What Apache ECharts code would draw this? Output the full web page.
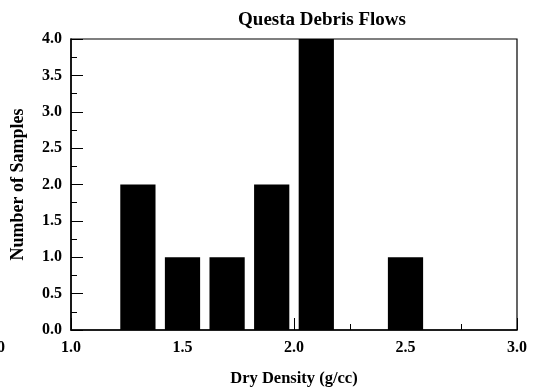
<!DOCTYPE html>
<html>
<head>
<meta charset="utf-8">
<script src="https://cdn.jsdelivr.net/npm/echarts@6/dist/echarts.min.js"></script>
<style>
html,body{margin:0;padding:0;background:#fff;}
#chart{width:534px;height:392px;}
</style>
</head>
<body>
<div id="chart"></div>
<script>
// Data
const binCenters = [1.3, 1.5, 1.7, 1.9, 2.1, 2.5];
const counts = [2, 1, 1, 2, 4, 1];
const xTickLabels = ['1.0', '1.5', '2.0', '2.5', '3.0'];
const yTickLabels = ['0.0', '0.5', '1.0', '1.5', '2.0', '2.5', '3.0', '3.5', '4.0'];
const barWidthUnits = 0.158;

const FONT = '"Liberation Serif", "Times New Roman", serif';
const chart = echarts.init(document.getElementById('chart'), null, {renderer: 'canvas'});

const option = {
  animation: false,
  backgroundColor: '#ffffff',
  grid: {
    left: 71, right: 17, top: 39, bottom: 56,
    show: true, borderColor: '#000', borderWidth: 1.2, backgroundColor: 'transparent'
  },
  xAxis: {
    type: 'value', min: 1, max: 3, interval: 0.5,
    name: 'Dry Density (g/cc)', nameLocation: 'middle', nameGap: 40,
    nameTextStyle: {fontFamily: FONT, fontWeight: 'bold', fontSize: 16.5, color: '#000'},
    axisLine: {show: true, onZero: false, lineStyle: {color: '#000', width: 1.5}},
    axisTick: {show: true, inside: true, length: 12, lineStyle: {color: '#000', width: 1}},
    minorTick: {show: true, splitNumber: 2, length: 6, lineStyle: {color: '#000', width: 1}},
    splitLine: {show: false},
    axisLabel: {
      fontFamily: FONT, fontWeight: 'bold', fontSize: 16, color: '#000', margin: 10,
      formatter: v => xTickLabels[Math.round((v - 1) / 0.5)]
    }
  },
  yAxis: {
    type: 'value', min: 0, max: 4, interval: 0.5,
    name: 'Number of Samples', nameLocation: 'middle', nameGap: 44,
    nameTextStyle: {fontFamily: FONT, fontWeight: 'bold', fontSize: 18, color: '#000'},
    axisLine: {show: true, onZero: false, lineStyle: {color: '#000', width: 1.5}},
    axisTick: {show: true, inside: true, length: 12, lineStyle: {color: '#000', width: 1}},
    minorTick: {show: true, splitNumber: 2, length: 6, lineStyle: {color: '#000', width: 1}},
    splitLine: {show: false},
    axisLabel: {
      fontFamily: FONT, fontWeight: 'bold', fontSize: 16, color: '#000', margin: 9,
      formatter: v => yTickLabels[Math.round(v / 0.5)]
    }
  },
  graphic: [{
    type: 'text', x: 322, y: 20,
    style: {text: 'Questa Debris Flows', font: 'bold 19px ' + FONT, fill: '#000',
            textAlign: 'center', textVerticalAlign: 'middle'}
  }, {
    type: 'text', x: 5, y: 348,
    style: {text: '0', font: 'bold 16px ' + FONT, fill: '#000',
            textAlign: 'right', textVerticalAlign: 'middle'}
  }],
  series: [{
    type: 'custom',
    data: binCenters.map((c, i) => [c, counts[i]]),
    renderItem: function (params, api) {
      const x = api.value(0), y = api.value(1);
      const p0 = api.coord([x - barWidthUnits / 2, y]);
      const p1 = api.coord([x + barWidthUnits / 2, 0]);
      return {
        type: 'rect',
        shape: {x: p0[0], y: p0[1], width: p1[0] - p0[0], height: p1[1] - p0[1]},
        style: {fill: '#000'}
      };
    },
    z: 1
  }]
};
chart.setOption(option);
</script>
</body>
</html>
